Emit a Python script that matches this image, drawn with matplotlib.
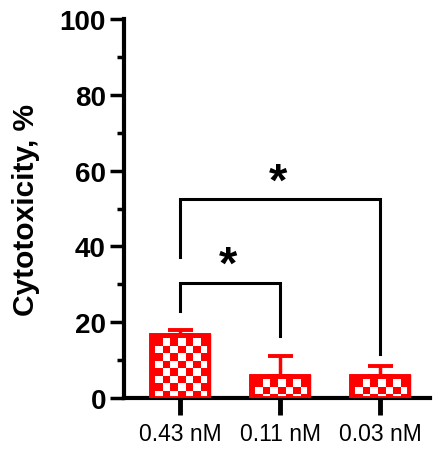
import numpy as np
import matplotlib.pyplot as plt
from matplotlib.colors import ListedColormap

# data
groups = ["0.43 nM", "0.11 nM", "0.03 nM"]
means = [16.5, 5.8, 5.8]
errs = [1.5, 5.2, 2.6]

# significance brackets: (left bar, right bar, top, left leg end, right leg end)
brackets = [(0, 1, 30.3, 23.0, 16.4), (0, 2, 52.5, 37.2, 11.6)]
star_y = [37.2, 59.1]
stars = ["*", "*"]

plt.rcParams['font.family'] = ['Liberation Sans', 'DejaVu Sans']

fig = plt.figure(figsize=(4.33, 4.56), dpi=100)
ax = fig.add_axes([0.2864, 0.125, 0.7067, 0.831])

x = np.arange(len(groups))
red = '#ff0000'
bars = ax.bar(x, means, width=0.58, color=red, edgecolor=red, linewidth=2.5, zorder=2)

# checkerboard fill, clipped to each bar
cx, cy = 0.075, 1.98
cmap = ListedColormap([red, 'white'])
for b in bars:
    x0, w, h = b.get_x(), b.get_width(), b.get_height()
    nx = int(np.ceil(w / cx)) + 1
    ny = int(np.ceil(h / cy)) + 1
    board = np.indices((ny, nx)).sum(axis=0) % 2
    im = ax.imshow(board, cmap=cmap, extent=[x0 + 0.04, x0 + 0.04 + nx * cx, h - ny * cy - 0.8, h - 0.8],
                   origin='upper', interpolation='nearest', aspect='auto', zorder=3)
    im.set_clip_path(b)
    ax.add_patch(plt.Rectangle((x0, 0), w, h, fill=False, edgecolor=red, linewidth=2.8, zorder=4))

ax.errorbar(x, means, yerr=[np.zeros(3), errs], fmt='none', ecolor=red,
            elinewidth=2.5, capsize=9, capthick=2.8, zorder=1)

fs_star = 34
for (a, b2, top, la, lb), sy, s in zip(brackets, star_y, stars):
    ax.plot([a, a, b2, b2], [la, top, top, lb], color='black', lw=2.2, zorder=5,
            solid_joinstyle='miter')
    ax.annotate(s, xy=((a + b2) / 2 - 0.015, sy), xytext=(0, -0.44 * fs_star),
                textcoords='offset points', ha='center', va='baseline',
                fontsize=fs_star, fontweight='bold')

ax.set_xlim(-0.56, 2.5)
ax.set_ylim(0, 100)
ax.set_xticks(x)
ax.set_xticklabels(groups, fontsize=16.5)
ax.set_yticks(np.arange(0, 101, 20))
ax.set_yticks(np.arange(10, 100, 20), minor=True)
ax.tick_params(axis='y', which='major', length=10, width=2.5, labelsize=20, pad=3)
ax.tick_params(axis='y', which='minor', length=5, width=2.5)
ax.tick_params(axis='x', length=12, width=3.5, pad=5)
for lab in ax.get_yticklabels():
    lab.set_fontweight('bold')
ax.set_ylabel("Cytotoxicity, %", fontsize=21.5, fontweight='bold', labelpad=14)

for side in ['top', 'right']:
    ax.spines[side].set_visible(False)
for side in ['left', 'bottom']:
    ax.spines[side].set_linewidth(3)
ax.spines['left'].set_capstyle('projecting')

fig.savefig('out.png', dpi=100)
